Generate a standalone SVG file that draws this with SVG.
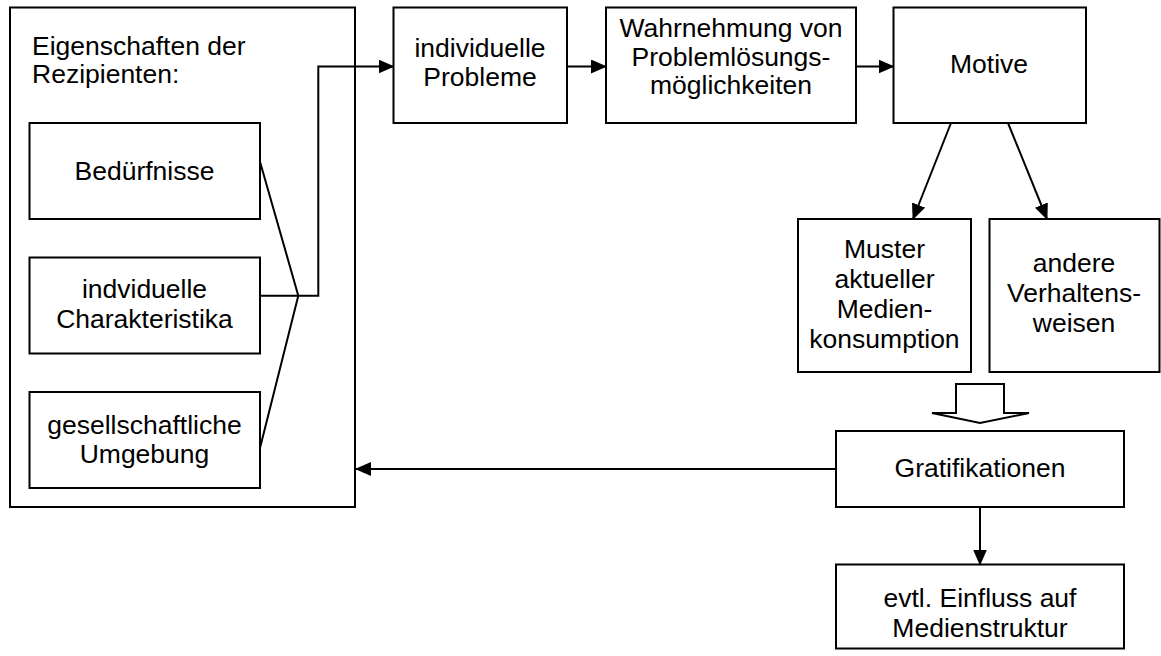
<svg xmlns="http://www.w3.org/2000/svg" width="1161" height="656" viewBox="0 0 1161 656">
<defs>
<style>
.b{fill:#fff;stroke:#000;stroke-width:2}
.l{fill:none;stroke:#000;stroke-width:2}
text{font-family:"Liberation Sans",Arial,sans-serif;font-size:26.5px;fill:#000}
.c{text-anchor:middle}
</style>
<marker id="ah" markerWidth="16" markerHeight="14" refX="15" refY="7" orient="auto" markerUnits="userSpaceOnUse" viewBox="0 0 16 14">
<path d="M0,0 L16,7 L0,14 Z" fill="#000"/>
</marker>
</defs>
<rect width="1161" height="656" fill="#fff"/>
<g id="rezipienten">
<rect class="b" x="10" y="7.5" width="345" height="499.5"/>
<text x="32" y="55">Eigenschaften der</text>
<text x="32" y="83">Rezipienten:</text>
</g>
<g id="beduerfnisse">
<rect class="b" x="29.5" y="123" width="230.5" height="96"/>
<text class="c" x="144.5" y="180">Bedürfnisse</text>
</g>
<g id="charakteristika">
<rect class="b" x="29.5" y="257.5" width="230.5" height="96"/>
<text class="c" x="144.5" y="298">indviduelle</text>
<text class="c" x="144.5" y="328">Charakteristika</text>
</g>
<g id="umgebung">
<rect class="b" x="29.5" y="392" width="230.5" height="96"/>
<text class="c" x="144.5" y="434">gesellschaftliche</text>
<text class="c" x="144.5" y="463">Umgebung</text>
</g>
<g id="probleme">
<rect class="b" x="393.5" y="7.5" width="173.5" height="115.5"/>
<text class="c" x="480" y="57">individuelle</text>
<text class="c" x="480" y="86">Probleme</text>
</g>
<g id="wahrnehmung">
<rect class="b" x="606" y="7.5" width="250" height="115.5"/>
<text class="c" x="731" y="37">Wahrnehmung von</text>
<text class="c" x="731" y="65.5">Problemlösungs-</text>
<text class="c" x="731" y="94">möglichkeiten</text>
</g>
<g id="motive">
<rect class="b" x="893.5" y="7.5" width="192.5" height="115.5"/>
<text class="c" x="989" y="73">Motive</text>
</g>
<g id="muster">
<rect class="b" x="798" y="219" width="173" height="153"/>
<text class="c" x="884.5" y="258">Muster</text>
<text class="c" x="884.5" y="288">aktueller</text>
<text class="c" x="884.5" y="318">Medien-</text>
<text class="c" x="884.5" y="348">konsumption</text>
</g>
<g id="andere">
<rect class="b" x="989.5" y="219" width="170" height="153"/>
<text class="c" x="1074" y="272">andere</text>
<text class="c" x="1074" y="302">Verhaltens-</text>
<text class="c" x="1074" y="332">weisen</text>
</g>
<g id="gratifikationen">
<rect class="b" x="836" y="431" width="288" height="76"/>
<text class="c" x="980" y="477">Gratifikationen</text>
</g>
<g id="einfluss">
<rect class="b" x="836" y="564.5" width="288" height="84"/>
<text class="c" x="980" y="607">evtl. Einfluss auf</text>
<text class="c" x="980" y="637">Medienstruktur</text>
</g>
<g id="connectors">
<path class="l" d="M260,161.7 L298.3,295.7 L260,448"/>
<path class="l" d="M260,295.7 L318.3,295.7 L318.3,66.5 L393.5,66.5" marker-end="url(#ah)"/>
<path class="l" d="M567,66.5 L606,66.5" marker-end="url(#ah)"/>
<path class="l" d="M856,66.5 L893.5,66.5" marker-end="url(#ah)"/>
<path class="l" d="M951,123 L913,219" marker-end="url(#ah)"/>
<path class="l" d="M1008,123 L1047,219" marker-end="url(#ah)"/>
<path class="l" d="M836,469 L356,469" marker-end="url(#ah)"/>
<path class="l" d="M980,507 L980,564.5" marker-end="url(#ah)"/>
<path class="b" d="M956,384 L1004,384 L1004,413 L1029,413 L980,423 L932,413 L956,413 Z"/>
</g>
</svg>
